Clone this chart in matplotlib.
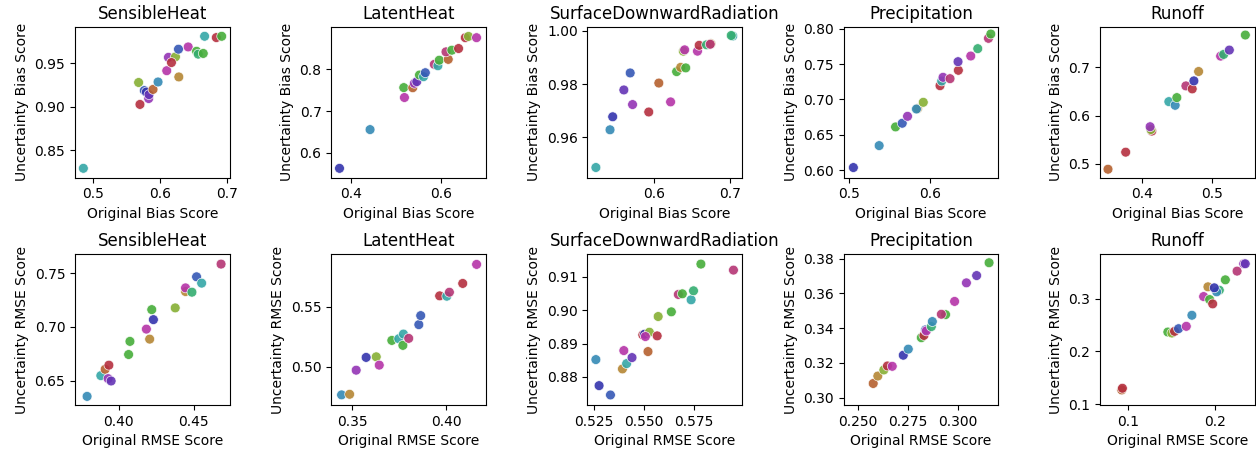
import matplotlib
matplotlib.use("Agg")
import matplotlib.pyplot as plt

variables = ["SensibleHeat", "LatentHeat", "SurfaceDownwardRadiation", "Precipitation", "Runoff"]

# colour per model family (muted hls-like hues)
palette = {
    "red": "#b5303f", "brown": "#b5602e", "ochre": "#b58634", "olive": "#86b034",
    "green": "#46ad3a", "sea": "#34ad70", "teal": "#34a6a6", "cyan": "#348ab5",
    "blue": "#3558b5", "navy": "#3434ad", "purple": "#6434b5", "violet": "#9434b5",
    "magenta": "#b534a8", "pink": "#b53574",
}

# ---- bias scores ----
sh_bias_x = [0.485, 0.5695, 0.5675, 0.576, 0.579, 0.5825, 0.583, 0.589, 0.5965, 0.6095, 0.612,
             0.6225, 0.6165, 0.6275, 0.627, 0.6415, 0.654, 0.6565, 0.664, 0.666, 0.6835, 0.6915]
sh_bias_y = [0.829, 0.9027, 0.928, 0.9187, 0.917, 0.9095, 0.914, 0.920, 0.9286, 0.9416, 0.957,
             0.9576, 0.951, 0.9344, 0.9664, 0.969, 0.964, 0.9607, 0.9615, 0.9813, 0.9798, 0.9813]
sh_bias_c = ["teal", "red", "olive", "blue", "navy", "violet", "purple", "brown", "cyan", "magenta", "violet",
             "olive", "red", "ochre", "blue", "magenta", "green", "sea", "green", "teal", "red", "green"]

lh_bias_x = [0.374, 0.442, 0.5185, 0.517, 0.537, 0.5407, 0.546, 0.552, 0.561, 0.565, 0.585,
             0.593, 0.596, 0.616, 0.611, 0.624, 0.639, 0.654, 0.661, 0.679]
lh_bias_y = [0.5627, 0.6556, 0.7325, 0.7563, 0.756, 0.7667, 0.7706, 0.7865, 0.7825, 0.792, 0.812,
             0.8087, 0.822, 0.824, 0.842, 0.846, 0.850, 0.876, 0.879, 0.876]
lh_bias_c = ["navy", "cyan", "magenta", "green", "brown", "violet", "purple", "green", "teal", "blue", "pink",
             "teal", "green", "brown", "pink", "green", "red", "red", "olive", "magenta"]

sdr_bias_x = [0.5238, 0.5423, 0.5458, 0.5604, 0.5687, 0.5718, 0.593, 0.6062, 0.6216, 0.6295, 0.6348,
              0.6414, 0.6383, 0.640, 0.6568, 0.659, 0.6687, 0.6744, 0.6735, 0.703, 0.701]
sdr_bias_y = [0.9486, 0.9628, 0.9677, 0.9778, 0.9842, 0.9723, 0.9695, 0.9804, 0.9733, 0.9847, 0.9863,
              0.9861, 0.9924, 0.9929, 0.9924, 0.9946, 0.9948, 0.9952, 0.9950, 0.9981, 0.9983]
sdr_bias_c = ["teal", "cyan", "navy", "purple", "blue", "violet", "red", "brown", "magenta", "green", "ochre",
              "green", "olive", "magenta", "magenta", "red", "sea", "ochre", "pink", "teal", "sea"]

pr_bias_x = [0.5057, 0.5373, 0.5574, 0.5656, 0.5721, 0.5844, 0.583, 0.5914, 0.6119, 0.614, 0.6156,
             0.6242, 0.6344, 0.634, 0.6496, 0.6582, 0.6713, 0.6742]
pr_bias_y = [0.6038, 0.6348, 0.6612, 0.6664, 0.6762, 0.6871, 0.6865, 0.696, 0.7195, 0.7261, 0.7313,
             0.7294, 0.7412, 0.7534, 0.7614, 0.7718, 0.7864, 0.7925]
pr_bias_c = ["navy", "cyan", "green", "blue", "violet", "ochre", "cyan", "olive", "red", "teal", "violet",
             "pink", "red", "purple", "magenta", "sea", "pink", "green"]

ro_bias_x = [0.3519, 0.3771, 0.4143, 0.413, 0.4119, 0.4386, 0.4476, 0.45, 0.4629, 0.4719, 0.4743,
             0.481, 0.5124, 0.5167, 0.5248, 0.5476]
ro_bias_y = [0.4889, 0.5242, 0.5678, 0.571, 0.5768, 0.6287, 0.6211, 0.637, 0.6612, 0.655, 0.6716,
             0.691, 0.7228, 0.7263, 0.7353, 0.7664]
ro_bias_c = ["brown", "red", "red", "olive", "violet", "teal", "cyan", "green", "pink", "red", "navy",
             "ochre", "magenta", "sea", "purple", "green"]

# ---- RMSE scores ----
sh_rmse_x = [0.3787, 0.3879, 0.3908, 0.3933, 0.3928, 0.3948, 0.4065, 0.4074, 0.4184, 0.4206, 0.4231,
             0.422, 0.4377, 0.4446, 0.4446, 0.4489, 0.452, 0.4554, 0.4684]
sh_rmse_y = [0.6355, 0.6548, 0.6607, 0.6645, 0.652, 0.6498, 0.6744, 0.6866, 0.698, 0.6887, 0.7068,
             0.7161, 0.7177, 0.7329, 0.7363, 0.7323, 0.7466, 0.7407, 0.7584]
sh_rmse_c = ["cyan", "teal", "brown", "red", "violet", "purple", "green", "green", "magenta", "ochre", "navy",
             "green", "olive", "ochre", "magenta", "sea", "blue", "teal", "pink"]

lh_rmse_x = [0.3443, 0.3486, 0.3521, 0.3574, 0.3628, 0.3644, 0.3711, 0.3748, 0.3773, 0.3770, 0.3801,
             0.3855, 0.3865, 0.3966, 0.4004, 0.4018, 0.4089, 0.4163]
lh_rmse_y = [0.4767, 0.4772, 0.4972, 0.5078, 0.5083, 0.5014, 0.5219, 0.5233, 0.5272, 0.5178, 0.5236,
             0.535, 0.5425, 0.5589, 0.5586, 0.5619, 0.5692, 0.585]
lh_rmse_c = ["cyan", "ochre", "violet", "navy", "olive", "magenta", "green", "teal", "teal", "green", "pink",
             "blue", "blue", "red", "teal", "pink", "red", "magenta"]

sdr_rmse_x = [0.5258, 0.5274, 0.5331, 0.5391, 0.5398, 0.5412, 0.5439, 0.5493, 0.5502, 0.5526, 0.5506,
              0.5519, 0.5565, 0.557, 0.5636, 0.5671, 0.5691, 0.5735, 0.5747, 0.5784, 0.5947]
sdr_rmse_y = [0.8852, 0.8774, 0.8746, 0.8824, 0.8879, 0.884, 0.8858, 0.8926, 0.8928, 0.8934, 0.8921,
              0.8876, 0.8923, 0.8981, 0.8995, 0.9047, 0.9049, 0.9031, 0.9058, 0.9138, 0.912]
sdr_rmse_c = ["cyan", "navy", "blue", "ochre", "magenta", "teal", "purple", "red", "navy", "olive", "magenta",
              "brown", "red", "olive", "green", "pink", "green", "teal", "sea", "green", "pink"]

pr_rmse_x = [0.2577, 0.26, 0.263, 0.2648, 0.2672, 0.2727, 0.2752, 0.2817, 0.283, 0.2838, 0.2842,
             0.2867, 0.2872, 0.2938, 0.2917, 0.2983, 0.3042, 0.3093, 0.3155]
pr_rmse_y = [0.3081, 0.3124, 0.3159, 0.3182, 0.318, 0.3244, 0.3279, 0.3345, 0.3358, 0.3390, 0.3384,
             0.3409, 0.3438, 0.3478, 0.348, 0.3554, 0.3661, 0.3703, 0.3777]
pr_rmse_c = ["brown", "ochre", "olive", "red", "magenta", "navy", "cyan", "green", "red", "blue", "magenta",
             "sea", "cyan", "green", "pink", "magenta", "violet", "purple", "green"]

ro_rmse_x = [0.0922, 0.093, 0.1457, 0.1504, 0.1535, 0.1581, 0.1671, 0.1736, 0.1872, 0.1942, 0.1922,
             0.1977, 0.2054, 0.2023, 0.1996, 0.2124, 0.226, 0.2337, 0.2355]
ro_rmse_y = [0.1272, 0.1304, 0.2367, 0.2348, 0.238, 0.243, 0.2475, 0.2684, 0.3038, 0.2981, 0.3222,
             0.2899, 0.3158, 0.3127, 0.3203, 0.3354, 0.3519, 0.3658, 0.3658]
ro_rmse_c = ["brown", "red", "green", "olive", "red", "blue", "magenta", "cyan", "magenta", "green", "ochre",
             "red", "sea", "cyan", "navy", "green", "pink", "violet", "purple"]

# tick positions shown on each panel
bias_xticks = [[0.5, 0.6, 0.7], [0.4, 0.6], [0.6, 0.7], [0.5, 0.6], [0.4, 0.5]]
bias_yticks = [[0.85, 0.90, 0.95], [0.6, 0.7, 0.8], [0.96, 0.98, 1.00],
               [0.60, 0.65, 0.70, 0.75, 0.80], [0.5, 0.6, 0.7]]
rmse_xticks = [[0.40, 0.45], [0.35, 0.40], [0.525, 0.550, 0.575], [0.250, 0.275, 0.300], [0.1, 0.2]]
rmse_yticks = [[0.65, 0.70, 0.75], [0.50, 0.55], [0.88, 0.89, 0.90, 0.91],
               [0.30, 0.32, 0.34, 0.36, 0.38], [0.1, 0.2, 0.3]]

# axis ranges as seen in the original figure
bias_xlim = [(0.4725, 0.7035), (0.3556, 0.70), (0.5128, 0.7154), (0.4939, 0.6836), (0.3405, 0.561)]
bias_ylim = [(0.8183, 0.992), (0.5405, 0.9016), (0.9448, 1.0015), (0.5896, 0.8024), (0.4716, 0.783)]
rmse_xlim = [(0.3706, 0.4742), (0.3388, 0.4213), (0.5216, 0.5991), (0.243, 0.3202), (0.067, 0.2465)]
rmse_ylim = [(0.6275, 0.7674), (0.4683, 0.5933), (0.8716, 0.9167), (0.2957, 0.3825), (0.0987, 0.3835)]

bias_data = [(sh_bias_x, sh_bias_y, sh_bias_c), (lh_bias_x, lh_bias_y, lh_bias_c),
             (sdr_bias_x, sdr_bias_y, sdr_bias_c), (pr_bias_x, pr_bias_y, pr_bias_c),
             (ro_bias_x, ro_bias_y, ro_bias_c)]
rmse_data = [(sh_rmse_x, sh_rmse_y, sh_rmse_c), (lh_rmse_x, lh_rmse_y, lh_rmse_c),
             (sdr_rmse_x, sdr_rmse_y, sdr_rmse_c), (pr_rmse_x, pr_rmse_y, pr_rmse_c),
             (ro_rmse_x, ro_rmse_y, ro_rmse_c)]

rows = [
    (bias_data, "Bias", bias_xticks, bias_yticks, bias_xlim, bias_ylim),
    (rmse_data, "RMSE", rmse_xticks, rmse_yticks, rmse_xlim, rmse_ylim),
]

fig, axes = plt.subplots(2, 5, figsize=(12.56, 4.5), dpi=100)

for r, (data, kind, xts, yts, xls, yls) in enumerate(rows):
    for col, (x, y, c) in enumerate(data):
        ax = axes[r, col]
        ax.scatter(x, y, c=[palette[k] for k in c], s=50, alpha=0.9,
                   edgecolors="white", linewidths=0.5)
        ax.set_title(variables[col])
        ax.set_xlabel(f"Original {kind} Score")
        ax.set_ylabel(f"Uncertainty {kind} Score")
        ax.set_xticks(xts[col])
        ax.set_yticks(yts[col])
        ax.set_xlim(xls[col])
        ax.set_ylim(yls[col])

fig.subplots_adjust(left=0.0597, right=0.999, top=0.94, bottom=0.1, wspace=0.656, hspace=0.51)
fig.savefig("out.png")
